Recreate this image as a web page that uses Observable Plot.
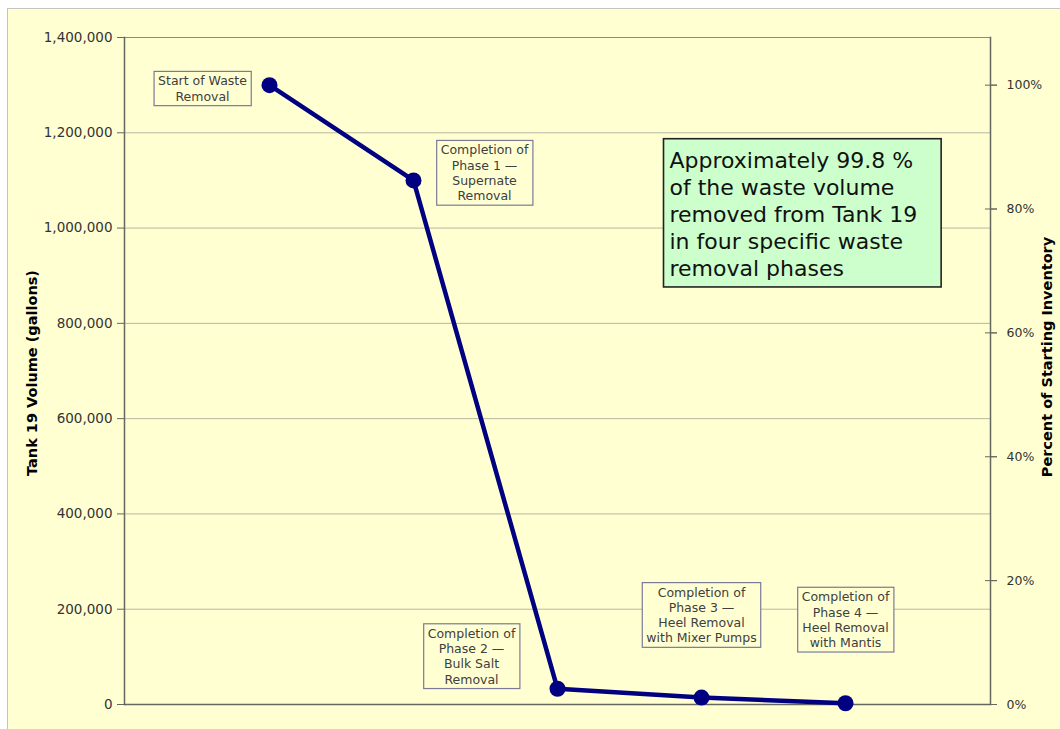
<!DOCTYPE html>
<html><head><meta charset="utf-8">
<script src="https://cdn.jsdelivr.net/npm/d3@7"></script>
<script src="https://cdn.jsdelivr.net/npm/@observablehq/plot@0.6"></script>
<style>
html,body{margin:0;padding:0;background:#ffffff;}
#bg{position:absolute;left:7px;top:8px;width:1060px;height:730px;background:#FFFFD2;border-left:1.5px solid #c4c4c4;border-top:1.5px solid #c4c4c4;}
#chart{position:absolute;left:0;top:0;}
svg{overflow:visible;}
</style></head><body>
<div id="bg"></div><div id="chart"></div>
<script>
// ---- data ----
const phases = ["Start", "Phase 1", "Phase 2", "Phase 3", "Phase 4"];
const volumes = [1300000, 1100000, 33000, 14500, 2600];
const phaseLabels = [
  "Start of Waste\nRemoval",
  "Completion of\nPhase 1 —\nSupernate\nRemoval",
  "Completion of\nPhase 2 —\nBulk Salt\nRemoval",
  "Completion of\nPhase 3 —\nHeel Removal\nwith Mixer Pumps",
  "Completion of\nPhase 4 —\nHeel Removal\nwith Mantis"
];
const volumeTicks = [0, 200000, 400000, 600000, 800000, 1000000, 1200000, 1400000];
const percentTicks = [0, 20, 40, 60, 80, 100];
const startingInventory = 1300000;
const leftTitle = "Tank 19 Volume (gallons)";
const rightTitle = "Percent of Starting Inventory";
const noteText = "Approximately 99.8 %\nof the waste volume\nremoved from Tank 19\nin four specific waste\nremoval phases";

const data = phases.map((p, i) => ({phase: p, volume: volumes[i], label: phaseLabels[i]}));

// annotation offsets (layout)
const labelOffsets = [[-67, 3], [71, -8], [-86, -33], [0, -83], [0, -84]];
const labelData = data.map((d, i) => ({...d, dx: labelOffsets[i][0], dy: labelOffsets[i][1]}));

const font = "DejaVu Sans, Verdana, sans-serif";
const axisColor = "#666660";
const pctValues = percentTicks.map(p => p / 100 * startingInventory);

const chart = Plot.plot({
  width: 1060,
  height: 729,
  marginLeft: 124,
  marginRight: 70,
  marginTop: 37,
  marginBottom: 25,
  style: {background: "transparent", fontFamily: font, color: "#333"},
  x: {type: "point", domain: phases, padding: 1, axis: null},
  y: {domain: [0, 1400000], axis: null},
  marks: [
    Plot.gridY(volumeTicks, {stroke: "#b8b8a0", strokeOpacity: 1, strokeWidth: 1}),
    Plot.ruleY([1400000], {stroke: "#8c8c84", strokeWidth: 1.2}),
    Plot.axisY(volumeTicks, {anchor: "left", tickSize: 7, tickPadding: 5, fontSize: 13.5, stroke: axisColor, fill: "#333", label: null, tickFormat: d => d3.format(",")(d)}),
    Plot.axisY(pctValues, {anchor: "right", tickSize: 6, tickPadding: 10, fontSize: 12.5, stroke: axisColor, fill: "#333", label: null, tickFormat: d => Math.round(d / startingInventory * 100) + "%"}),
    Plot.axisY(pctValues, {anchor: "right", tickSize: 12, dx: -6, stroke: axisColor, label: null, tickFormat: () => ""}),
    Plot.frame({anchor: "left", stroke: axisColor, strokeWidth: 1.5}),
    Plot.frame({anchor: "right", stroke: axisColor, strokeWidth: 1.5}),
    Plot.ruleY([0], {stroke: axisColor, strokeWidth: 1.5}),
    Plot.line(data, {x: "phase", y: "volume", stroke: "#000080", strokeWidth: 4.5}),
    Plot.dot(data, {x: "phase", y: "volume", r: 8, fill: "#000080", stroke: "none"}),
    ...labelData.map(d => Plot.text([d], {x: "phase", y: "volume", text: "label", dx: d.dx, dy: d.dy, fontSize: 12.5, lineHeight: 1.22, fill: "#404040", className: "phase-label"})),
    Plot.text([leftTitle], {frameAnchor: "left", textAnchor: "middle", rotate: -90, dx: -92, dy: 2, fontSize: 14.5, fontWeight: "bold", fill: "#000"}),
    Plot.text([rightTitle], {frameAnchor: "right", textAnchor: "middle", rotate: -90, dx: 57, dy: -14, fontSize: 14.5, fontWeight: "bold", fill: "#000"}),
    Plot.text([noteText], {frameAnchor: "top-left", textAnchor: "start", lineAnchor: "top", dx: 545, dy: 111, fontSize: 22, lineHeight: 1.23, fill: "#111", className: "note-box"})
  ]
});

document.getElementById("chart").appendChild(chart);

// draw boxes behind annotation texts, sized from their rendered text
function boxBehind(selector, pad, fill, stroke, strokeWidth) {
  d3.select(chart).selectAll(selector).each(function () {
    const g = this;
    d3.select(g).selectAll("text").each(function () {
      const b = this.getBBox();
      const t = this.getAttribute("transform");
      d3.select(g).insert("rect", () => this)
        .attr("transform", t)
        .attr("x", b.x - pad[3]).attr("y", b.y - pad[0])
        .attr("width", b.width + pad[1] + pad[3]).attr("height", b.height + pad[0] + pad[2])
        .attr("fill", fill).attr("stroke", stroke).attr("stroke-width", strokeWidth);
    });
  });
}
boxBehind(".phase-label", [2, 4, 2, 4], "#FFFFD2", "#7a7a98", 1.2);
boxBehind(".note-box", [9, 24, 6, 6], "#CCFFCC", "#222", 1.6);
</script>
</body></html>
